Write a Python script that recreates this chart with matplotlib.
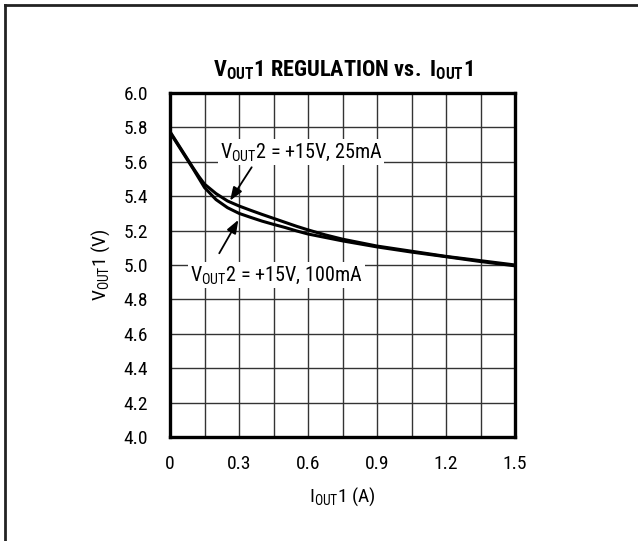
import matplotlib
matplotlib.use("Agg")
import matplotlib.pyplot as plt
from matplotlib.lines import Line2D

FONT = ['Roboto Condensed', 'Roboto', 'DejaVu Sans']
plt.rcParams['font.family'] = FONT
plt.rcParams['mathtext.fontset'] = 'custom'
plt.rcParams['mathtext.rm'] = 'Roboto Condensed'
plt.rcParams['mathtext.bf'] = 'Roboto Condensed:bold'
plt.rcParams['mathtext.it'] = 'Roboto Condensed'

# Data
iout1 = [0, 0.05, 0.1, 0.125, 0.15, 0.2, 0.25, 0.3, 0.35, 0.4, 0.45, 0.5, 0.55,
         0.6, 0.675, 0.75, 0.9, 1.05, 1.2, 1.35, 1.5]
v_25mA = [5.775, 5.67, 5.565, 5.515, 5.47, 5.415, 5.372, 5.343, 5.318, 5.294, 5.271,
          5.248, 5.225, 5.204, 5.175, 5.15, 5.11, 5.08, 5.05, 5.025, 5.0]
v_100mA = [5.77, 5.665, 5.56, 5.505, 5.45, 5.38, 5.333, 5.30, 5.277, 5.255, 5.236,
           5.218, 5.198, 5.18, 5.16, 5.14, 5.105, 5.075, 5.048, 5.02, 4.995]
xticks = [0, 0.3, 0.6, 0.9, 1.2, 1.5]
xticklabels = ['0', '0.3', '0.6', '0.9', '1.2', '1.5']
yticks = [4.0, 4.2, 4.4, 4.6, 4.8, 5.0, 5.2, 5.4, 5.6, 5.8, 6.0]
yticklabels = ['4.0', '4.2', '4.4', '4.6', '4.8', '5.0', '5.2', '5.4', '5.6', '5.8', '6.0']

fig = plt.figure(figsize=(6.38, 5.41), dpi=100)
ax = fig.add_axes([0.2665, 0.1922, 0.5408, 0.636])

# grid
for i in range(1, 10):
    ax.axvline(i * 0.15, color='#333333', lw=1.0, zorder=1)
for yv in yticks[1:-1]:
    ax.axhline(yv, color='#333333', lw=1.0, zorder=1)

ax.plot(iout1, v_25mA, color='black', lw=2.2, zorder=3)
ax.plot(iout1, v_100mA, color='black', lw=2.2, zorder=3)

ax.set_xlim(0, 1.5)
ax.set_ylim(4.0, 6.0)
ax.set_xticks(xticks)
ax.set_xticklabels(xticklabels)
ax.set_yticks(yticks)
ax.set_yticklabels(yticklabels)
ax.tick_params(length=0, labelsize=14, pad=13)
ax.tick_params(axis='y', pad=16)
for s in ax.spines.values():
    s.set_linewidth(2.4)
    s.set_zorder(5)

ax.set_xlabel(r'I$_{\mathrm{OUT}}$1 (A)', fontsize=14, labelpad=9)
ax.set_ylabel(r'V$_{\mathrm{OUT}}$1 (V)', fontsize=14, labelpad=8)
ax.set_title(r'$\mathbf{V_{OUT}1\ REGULATION\ vs.\ I_{OUT}1}$', fontsize=16, pad=12)

bbox = dict(facecolor='white', edgecolor='none', pad=1.5)
ax.text(0.217, 5.657, r'V$_{\mathrm{OUT}}$2 = +15V, 25mA', fontsize=14.5,
        ha='left', va='center', bbox=bbox, zorder=4)
ax.text(0.087, 4.94, r'V$_{\mathrm{OUT}}$2 = +15V, 100mA', fontsize=14.5,
        ha='left', va='center', bbox=bbox, zorder=4)

arrowprops = dict(arrowstyle='-|>,head_length=0.8,head_width=0.3', color='black', lw=1.3,
                  shrinkA=0, shrinkB=0)
ax.annotate('', xy=(0.261, 5.374), xytext=(0.355, 5.568), arrowprops=arrowprops, zorder=4)
ax.annotate('', xy=(0.297, 5.262), xytext=(0.214, 5.068), arrowprops=arrowprops, zorder=4)

# outer frame (top and left)
fig.add_artist(Line2D([5/638, 1.0], [1 - 5/541, 1 - 5/541], transform=fig.transFigure,
                      color='#222222', lw=2.0))
fig.add_artist(Line2D([5/638, 5/638], [0, 1 - 5/541], transform=fig.transFigure,
                      color='#222222', lw=2.0))

fig.savefig('out.png', dpi=100)
